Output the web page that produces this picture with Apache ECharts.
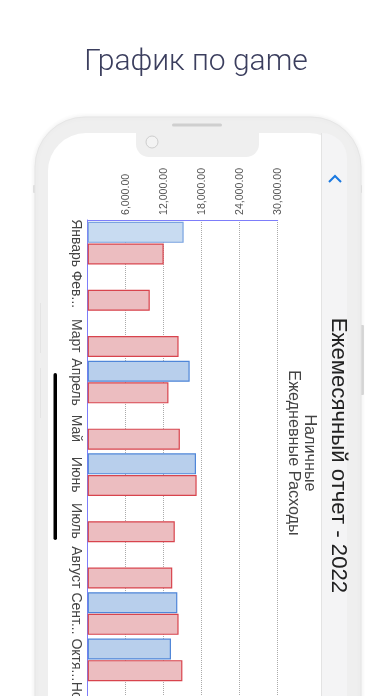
<!DOCTYPE html>
<html>
<head>
<meta charset="utf-8">
<script src="https://cdn.jsdelivr.net/npm/echarts@6/dist/echarts.min.js"></script>
<style>
html,body{margin:0;padding:0;background:#fff;}
#chart{width:392px;height:696px;}
</style>
</head>
<body>
<div id="chart"></div>
<script>
// ---- data ----
const pageTitle = 'График по game';
const chartTitle = 'Ежемесячный отчет - 2022';
const seriesNames = ['Наличные', 'Ежедневные Расходы'];
const months = ['Январь', 'Фев...', 'Март', 'Апрель', 'Май', 'Июнь', 'Июль', 'Август', 'Сент...', 'Октя...', 'Ноябрь', 'Декабрь'];
const cash  = [15150, null, null, 16100, null, 17100, null, null, 14150, 13150, null, null];
const daily = [12000, 9800, 14350, 12750, 14550, 17200, 13750, 13350, 14350, 14950, null, null];
const valueMax = 30000;
const valueStep = 6000;

function fmt(v) {
  return Math.round(v).toString().replace(/\B(?=(\d{3})+(?!\d))/g, ',') + '.00';
}

const chart = echarts.init(document.getElementById('chart'), null, {renderer: 'canvas'});

const FRAME = '#efefef';
const graphics = [
  // page heading
  {type: 'text', x: 196, y: 62, z: 10, style: {text: pageTitle, fontFamily: 'Roboto', fontWeight: 300, fontSize: 30, fill: '#3b3e5e', align: 'center', verticalAlign: 'middle'}},
  // phone outer frame
  {type: 'rect', z: -20, shape: {x: 35, y: 117, width: 326, height: 640, r: 50}, style: {fill: FRAME, stroke: '#e6e6e6', lineWidth: 1, shadowBlur: 5, shadowColor: 'rgba(0,0,0,0.08)'}},
  // side buttons
  {type: 'rect', z: -21, shape: {x: 360, y: 325, width: 4, height: 70, r: 1}, style: {fill: '#dcdcdc'}},
  {type: 'rect', z: -21, shape: {x: 359, y: 185, width: 3, height: 8, r: 1}, style: {fill: '#e0e0e0'}},
  {type: 'rect', z: -21, shape: {x: 33, y: 185, width: 3, height: 8, r: 1}, style: {fill: '#e6e6e6'}},
  {type: 'rect', z: -19, shape: {x: 40, y: 303, width: 1, height: 50}, style: {fill: '#e4e4e4'}},
  {type: 'rect', z: -19, shape: {x: 40, y: 368, width: 1, height: 50}, style: {fill: '#e4e4e4'}},
  // screen
  {type: 'rect', z: -18, shape: {x: 48, y: 133, width: 299, height: 620, r: 38}, style: {fill: '#ffffff'}},
  // right nav strip
  {type: 'rect', z: -17, shape: {x: 322, y: 133, width: 25, height: 620, r: [0, 38, 0, 0]}, style: {fill: '#f4f4f5'}},
  {type: 'line', z: -16, shape: {x1: 321.5, y1: 133, x2: 321.5, y2: 700}, style: {stroke: '#e3e3e3', lineWidth: 1}},
  // notch
  {type: 'rect', z: -15, shape: {x: 136, y: 128, width: 123, height: 29, r: [0, 0, 13, 13]}, style: {fill: FRAME}},
  // speaker
  {type: 'rect', z: -14, shape: {x: 172, y: 123.5, width: 50, height: 3, r: 1.5}, style: {fill: '#cfcfcf'}},
  // camera
  {type: 'circle', z: -14, shape: {cx: 152, cy: 142, r: 6}, style: {fill: '#f3f3f3', stroke: '#cdcdcd', lineWidth: 1}},
  // home indicator
  {type: 'rect', z: 5, shape: {x: 53.5, y: 373, width: 3.5, height: 167, r: 1.75}, style: {fill: '#000'}},
  // chevron
  {type: 'polyline', z: 5, shape: {points: [[329, 182], [335, 176], [341, 182]]}, style: {stroke: '#1a78e0', lineWidth: 2, fill: null}},
  // chart title (rotated)
  {type: 'text', z: 10, x: 338, y: 455.5, rotation: -Math.PI / 2, style: {text: chartTitle, fontFamily: 'Liberation Sans', fontSize: 22.2, fill: '#222', align: 'center', verticalAlign: 'middle'}},
  // legend labels (rotated)
  {type: 'text', z: 10, x: 309, y: 453, rotation: -Math.PI / 2, style: {text: seriesNames[0], fontFamily: 'Liberation Sans', fontSize: 16.2, fill: '#444', align: 'center', verticalAlign: 'middle'}},
  {type: 'text', z: 10, x: 293, y: 453, rotation: -Math.PI / 2, style: {text: seriesNames[1], fontFamily: 'Liberation Sans', fontSize: 16.2, fill: '#444', align: 'center', verticalAlign: 'middle'}}
];

const AXIS_COLOR = '#7d7dfa';

const option = {
  animation: false,
  backgroundColor: '#ffffff',
  textStyle: {fontFamily: 'Liberation Sans'},
  graphic: graphics,
  grid: {left: 87.7, top: 220, width: 190, height: 555.6, containLabel: false, outerBoundsMode: 'none'},
  xAxis: {
    type: 'value', position: 'top', min: 0, max: valueMax, interval: valueStep,
    axisLine: {show: true, lineStyle: {color: AXIS_COLOR, width: 1}},
    axisTick: {show: false},
    splitLine: {show: true, lineStyle: {type: 'dotted', color: '#aaaaaa', width: 1}},
    axisLabel: {rotate: -90, margin: 5, showMinLabel: false, color: '#555', fontSize: 10.6, fontFamily: 'Liberation Sans', formatter: fmt}
  },
  yAxis: {
    type: 'category', inverse: true, data: months,
    axisLine: {show: true, lineStyle: {color: AXIS_COLOR, width: 1}},
    axisTick: {show: false},
    splitLine: {show: false},
    axisLabel: {rotate: -90, margin: 5, interval: 0, color: '#444', fontSize: 14, fontFamily: 'Liberation Sans'}
  },
  series: [
    {
      name: seriesNames[0], type: 'bar', barCategoryGap: '8%', barGap: '3%',
      itemStyle: {color: '#b8cfec', borderColor: '#4f86d8', borderWidth: 1.2},
      data: cash.map((v, i) => i === 0 && v != null ? {value: v, itemStyle: {color: '#c8dbf1', borderColor: '#7aa3e0'}} : v)
    },
    {
      name: seriesNames[1], type: 'bar', barCategoryGap: '8%', barGap: '3%',
      itemStyle: {color: '#ecbdc0', borderColor: '#d8444d', borderWidth: 1.2},
      data: daily
    }
  ]
};
chart.setOption(option);
</script>
</body>
</html>
